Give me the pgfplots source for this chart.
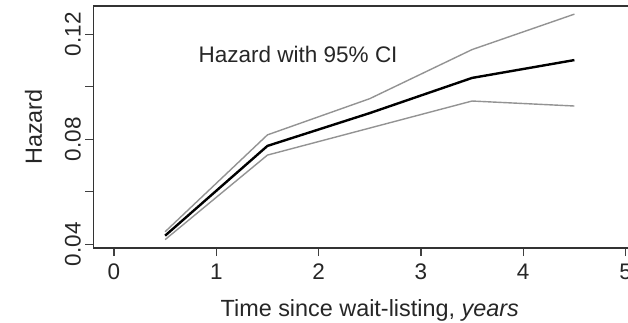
\documentclass[border=0pt]{standalone}
\usepackage{fontspec}
\setmainfont{Liberation Sans}
\usepackage{pgfplots}
\pgfplotsset{compat=1.18}
\newcommand\fs{\fontsize{22.5}{26}\selectfont}
\newcommand\fsl{\fontsize{23.4}{27}\selectfont}
\begin{document}
\begin{tikzpicture}
\begin{axis}[
  scale only axis,
  width=552.5pt, height=242pt,
  xmin=-0.2, xmax=5.2,
  ymin=0.0386, ymax=0.1308,
  xtick={0,1,2,3,4,5},
  xticklabels={0,1,2,3,4,5},
  ytick={0.04,0.06,0.08,0.10,0.12},
  yticklabels={0.04,,0.08,,0.12},
  xtick pos=bottom, ytick pos=left,
  tick align=outside,
  major tick length=8pt,
  tick style={black!75, line width=1.2pt},
  axis line style={black!80, line width=1.5pt},
  tick label style={font=\fs, text=black!85},
  yticklabel style={rotate=90, anchor=south, yshift=1pt},
  xticklabel style={yshift=-4pt},
  /pgf/number format/assume math mode=true,
  xlabel={Time since wait-listing, \textit{years}},
  ylabel={Hazard},
  label style={font=\fsl, text=black!85},
  xlabel style={yshift=-13pt},
  ylabel style={yshift=16pt},
  clip=false,
]
\addplot[gray!85, line width=1.4pt] coordinates {(0.5,0.0448) (1.5,0.0817) (2.5,0.0955) (3.5,0.1142) (4.5,0.1277)};
\addplot[gray!85, line width=1.4pt] coordinates {(0.5,0.0418) (1.5,0.0740) (2.5,0.0843) (3.5,0.0946) (4.5,0.0927)};
\addplot[black, line width=2.4pt] coordinates {(0.5,0.0433) (1.5,0.0775) (2.5,0.0900) (3.5,0.1034) (4.5,0.1102)};
\node[font=\fs, text=black!85, anchor=base] at (axis cs:1.8,0.1091) {Hazard with 95\% CI};
\end{axis}
\pgfresetboundingbox
\path[use as bounding box] (current axis.south west) ++(-93.5pt,-74pt) rectangle ++(628pt,322pt);
\end{tikzpicture}
\end{document}
